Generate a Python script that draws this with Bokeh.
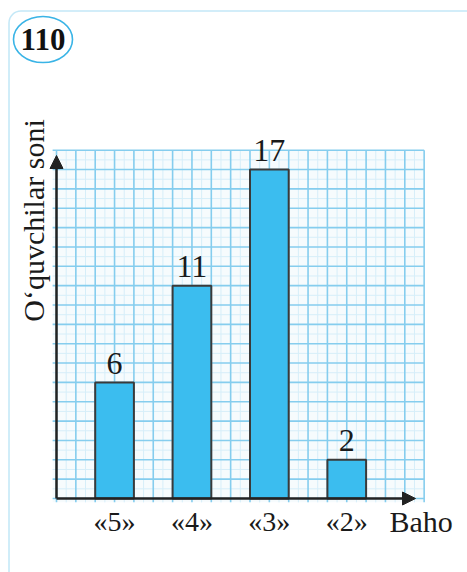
import numpy as np
from bokeh.plotting import figure
from bokeh.models import ColumnDataSource, Range1d, Arrow, NormalHead, BoxAnnotation
from bokeh.core.properties import value
from bokeh.embed import file_html
from bokeh.resources import INLINE

# ---- data ----
grades = ["«5»", "«4»", "«3»", "«2»"]
students = [6, 11, 17, 2]
problem_no = "110"
x_title = "Baho"
y_title = "O‘quvchilar soni"

# ---- layout (pixels -> grid units) ----
W, H = 467, 572
U = 19.35            # pixels per grid square (= 1 student)
X0, Y0 = 56, 498     # origin (px)

def ux(px):
    return (px - X0) / U

def uy(py):
    return (Y0 - py) / U

FONT = value("Liberation Serif")
BLUE = "#3ab4e6"

p = figure(width=W, height=H, output_backend="svg", toolbar_location=None,
           x_axis_type=None, y_axis_type=None, min_border=0,
           x_range=Range1d(-X0 / U, (W - X0) / U),
           y_range=Range1d(-(H - Y0) / U, Y0 / U))
p.outline_line_color = None
p.background_fill_color = "white"
p.border_fill_color = "white"

# frame box with rounded corner
p.add_layout(BoxAnnotation(left=ux(8.5), top=uy(10.5), right=ux(600), bottom=uy(900),
                           fill_color=None, line_color=BLUE, line_width=1.6,
                           border_radius=12))

# graph paper
gx0, gx1 = -0.2, 19.0
gy0, gy1 = -0.2, 18.0
p.quad(left=gx0, right=gx1, bottom=gy0, top=gy1, fill_color="#f6fbfd", line_color=None)
half = np.arange(0.5, 19.0, 1.0)
p.segment(x0=half, y0=gy0, x1=half, y1=gy1, line_color="#d6eef9", line_width=1)
halfy = np.arange(0.5, 18.0, 1.0)
p.segment(x0=gx0, y0=halfy, x1=gx1, y1=halfy, line_color="#d6eef9", line_width=1)
vx = np.arange(0, 20, 1.0)
p.segment(x0=vx, y0=gy0, x1=vx, y1=gy1, line_color="#85cdee", line_width=1.6)
hy = np.arange(0, 19, 1.0)
p.segment(x0=gx0, y0=hy, x1=gx1, y1=hy, line_color="#85cdee", line_width=1.6)

# bars
bar_x = [3 + 4 * i for i in range(len(grades))]
src = ColumnDataSource(dict(x=bar_x, top=students, g=grades,
                            lbl=[str(v) for v in students]))
p.vbar(x="x", top="top", bottom=0, width=2, source=src,
       fill_color="#3bbdef", line_color="#3a3a3a", line_width=2)

# value labels
p.text(x="x", y="top", text="lbl", source=src, text_font=FONT,
       text_font_size="32px", text_align="center", text_baseline="middle",
       y_offset=-19, text_color="#1a1a1a")

# category labels
p.text(x="x", y=0, text="g", source=src, text_font=FONT,
       text_font_size="28px", text_align="center", text_baseline="middle",
       y_offset=23, text_color="#1a1a1a")

# axes with arrows
p.add_layout(Arrow(end=NormalHead(size=13, fill_color="#222222", line_color="#222222"),
                   x_start=0, y_start=0, x_end=0, y_end=uy(155),
                   line_color="#222222", line_width=2.5))
p.add_layout(Arrow(end=NormalHead(size=13, fill_color="#222222", line_color="#222222"),
                   x_start=0, y_start=0, x_end=ux(415), y_end=0,
                   line_color="#222222", line_width=2.5))

# axis titles
p.text(x=[ux(389)], y=[0], text=[x_title], text_font=FONT, text_font_size="30px",
       text_align="left", text_baseline="middle", y_offset=23, text_color="#1a1a1a")
p.text(x=[ux(33)], y=[uy(220)], text=[y_title], text_font=FONT, text_font_size="30px",
       text_align="center", text_baseline="middle", angle=np.pi / 2,
       text_color="#1a1a1a")

# problem number badge
p.ellipse(x=[ux(42.5)], y=[uy(39)], width=59 / U, height=46 / U,
          fill_color="white", line_color=BLUE, line_width=1.6)
p.text(x=[ux(42.5)], y=[uy(39)], text=[problem_no], text_font=FONT,
       text_font_size="31px", text_font_style="bold", text_align="center",
       text_baseline="middle", text_color="#111111")

open("out.html", "w").write(file_html(p, INLINE))
